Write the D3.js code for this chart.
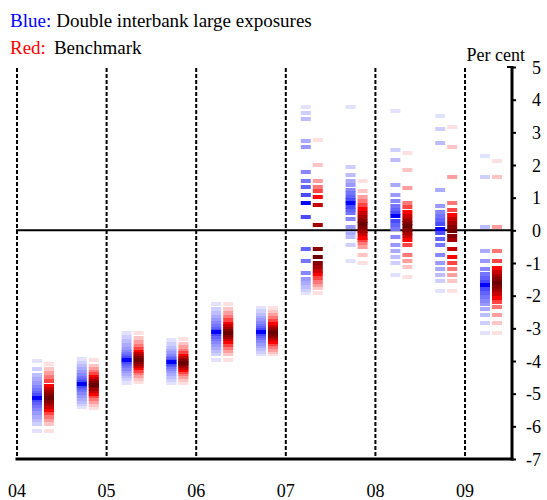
<!DOCTYPE html>
<html>
<head>
<meta charset="utf-8">
<script src="https://cdn.jsdelivr.net/npm/d3@7"></script>
<style>
  body { margin: 0; background: #fff; }
</style>
</head>
<body>
<svg id="viz" width="547" height="500"></svg>
<script>
// half-year periods, each with 19 quantiles (95th .. 5th), median is index 9
var periods = ["2004H1", "2004H2", "2005H1", "2005H2", "2006H1", "2006H2",
               "2007H1", "2007H2", "2008H1", "2008H2", "2009H1"];
var yearLabels = ["04", "05", "06", "07", "08", "09"];
var yTicks = [5, 4, 3, 2, 1, 0, -1, -2, -3, -4, -5, -6, -7];

// Blue: double interbank large exposures
var blueQ = [
  [-4.00, -4.24, -4.42, -4.55, -4.68, -4.80, -4.90, -4.98, -5.05, -5.12, -5.20, -5.28, -5.37, -5.47, -5.58, -5.70, -5.82, -5.92, -6.15],
  [-3.95, -4.05, -4.15, -4.25, -4.35, -4.44, -4.52, -4.59, -4.65, -4.70, -4.76, -4.83, -4.90, -4.98, -5.06, -5.15, -5.24, -5.33, -5.42],
  [-3.13, -3.28, -3.40, -3.52, -3.62, -3.71, -3.79, -3.86, -3.92, -3.97, -4.03, -4.09, -4.16, -4.23, -4.31, -4.39, -4.47, -4.56, -4.66],
  [-3.35, -3.48, -3.59, -3.69, -3.77, -3.84, -3.90, -3.95, -3.99, -4.03, -4.08, -4.13, -4.19, -4.25, -4.32, -4.40, -4.48, -4.57, -4.66],
  [-2.24, -2.40, -2.52, -2.64, -2.75, -2.85, -2.94, -3.01, -3.07, -3.12, -3.18, -3.25, -3.33, -3.41, -3.50, -3.59, -3.68, -3.78, -3.97],
  [-2.38, -2.48, -2.58, -2.67, -2.76, -2.85, -2.93, -3.00, -3.06, -3.11, -3.17, -3.24, -3.31, -3.39, -3.47, -3.55, -3.63, -3.71, -3.79],
  [3.77, 3.59, 3.40, 2.72, 2.54, 1.80, 1.51, 1.32, 1.07, 0.83, 0.40, -0.58, -0.94, -1.30, -1.48, -1.60, -1.72, -1.84, -1.92],
  [3.77, 1.93, 1.68, 1.51, 1.38, 1.25, 1.13, 1.02, 0.92, 0.83, 0.72, 0.62, 0.52, 0.35, 0.09, -0.07, -0.20, -0.46, -0.94],
  [3.64, 2.47, 2.16, 1.38, 1.07, 0.90, 0.75, 0.62, 0.52, 0.43, 0.30, 0.17, 0.04, -0.20, -0.46, -0.64, -0.82, -1.01, -1.37],
  [3.51, 3.09, 2.66, 1.25, 0.76, 0.55, 0.43, 0.32, 0.18, 0.04, -0.07, -0.26, -0.46, -0.76, -1.01, -1.19, -1.37, -1.56, -1.86],
  [2.29, 1.62, 0.09, -0.64, -0.94, -1.18, -1.33, -1.46, -1.58, -1.68, -1.80, -1.92, -2.03, -2.15, -2.27, -2.40, -2.59, -2.84, -3.14]
];

// Red: benchmark
var redQ = [
  [-4.08, -4.25, -4.38, -4.50, -4.62, -4.75, -4.86, -4.96, -5.05, -5.14, -5.23, -5.32, -5.41, -5.50, -5.60, -5.70, -5.80, -5.92, -6.14],
  [-3.97, -4.15, -4.25, -4.33, -4.41, -4.49, -4.56, -4.62, -4.67, -4.72, -4.78, -4.85, -4.92, -5.00, -5.08, -5.17, -5.26, -5.35, -5.45],
  [-3.15, -3.30, -3.42, -3.53, -3.63, -3.72, -3.80, -3.86, -3.91, -3.96, -4.02, -4.08, -4.15, -4.22, -4.30, -4.38, -4.46, -4.55, -4.65],
  [-3.33, -3.47, -3.58, -3.68, -3.77, -3.84, -3.90, -3.96, -4.01, -4.05, -4.10, -4.15, -4.21, -4.27, -4.34, -4.41, -4.49, -4.57, -4.66],
  [-2.24, -2.40, -2.53, -2.65, -2.76, -2.86, -2.94, -3.01, -3.07, -3.13, -3.19, -3.26, -3.34, -3.42, -3.51, -3.60, -3.69, -3.79, -3.97],
  [-2.38, -2.49, -2.59, -2.69, -2.78, -2.87, -2.95, -3.02, -3.08, -3.13, -3.19, -3.26, -3.33, -3.41, -3.49, -3.57, -3.65, -3.72, -3.80],
  [2.77, 1.99, 1.51, 1.32, 1.19, 1.01, 0.77, 0.15, -0.58, -0.82, -1.00, -1.12, -1.24, -1.35, -1.46, -1.57, -1.68, -1.78, -1.91],
  [1.50, 1.19, 1.02, 0.90, 0.78, 0.66, 0.54, 0.42, 0.30, 0.18, 0.08, -0.02, -0.12, -0.22, -0.31, -0.40, -0.52, -0.76, -1.00],
  [2.36, 1.85, 1.31, 0.84, 0.70, 0.55, 0.43, 0.32, 0.22, 0.12, 0.02, -0.08, -0.18, -0.30, -0.46, -0.76, -0.94, -1.13, -1.43],
  [3.15, 2.54, 1.62, 0.83, 0.62, 0.48, 0.35, 0.22, 0.10, -0.01, -0.16, -0.30, -0.58, -0.82, -1.01, -1.19, -1.37, -1.56, -1.86],
  [2.11, 1.62, 0.09, -0.64, -0.94, -1.14, -1.28, -1.40, -1.50, -1.61, -1.72, -1.84, -1.96, -2.08, -2.20, -2.35, -2.59, -2.84, -3.14]
];

// shades by distance from the median quantile (0 = median)
var blueShades = ["#0000ff", "#4a4aff", "#6262ff", "#7474ff", "#8686ff", "#9999ff", "#aaaaff", "#bcbcff", "#ceceff", "#e2e2ff"];
var redShades = ["#6b0000", "#850000", "#a50000", "#c80000", "#ff0000", "#ff4444", "#ff7777", "#ff9e9e", "#ffc4c4", "#ffe0e0"];

var FONT = "Liberation Serif";
var svg = d3.select("#viz");
var MEDIAN = 9, DASH_W = 10, DASH_H = 4;

var x = d3.scaleLinear().domain([2004, 2009]).range([17, 465]);
var y = d3.scaleLinear().domain([-7, 5]).range([459, 67]);
var xRight = 512;

function periodX(p) {
    var yr = +p.slice(0, 4);
    return x(yr + (p.slice(4) === "H1" ? 0.29 : 0.79));
}

// vertical dashed year lines
svg.append("g").selectAll("line")
    .data(yearLabels)
    .enter().append("line")
    .attr("x1", function (d, i) { return x(2004 + i); })
    .attr("x2", function (d, i) { return x(2004 + i); })
    .attr("y1", y(5) + 1)
    .attr("y2", y(-7))
    .attr("stroke", "#000")
    .attr("stroke-width", 2)
    .attr("stroke-dasharray", "4,2");

// zero line
svg.append("line")
    .attr("x1", x(2004) - 1).attr("x2", xRight)
    .attr("y1", y(0)).attr("y2", y(0))
    .attr("stroke", "#000").attr("stroke-width", 2);

// flatten the fans into dashes
var dashes = [];
periods.forEach(function (p, pi) {
    var cx = periodX(p);
    [[blueQ[pi], blueShades, -1], [redQ[pi], redShades, 1]].forEach(function (s) {
        s[0].forEach(function (v, qi) {
            dashes.push({
                x: s[2] < 0 ? cx - 1 - DASH_W : cx + 1,
                v: v,
                d: Math.abs(qi - MEDIAN),
                color: s[1][Math.abs(qi - MEDIAN)]
            });
        });
    });
});
// outer quantiles first so the median sits on top
dashes.sort(function (a, b) { return b.d - a.d; });

svg.append("g").selectAll("rect")
    .data(dashes)
    .enter().append("rect")
    .attr("x", function (d) { return d.x; })
    .attr("y", function (d) { return Math.round(y(d.v) - DASH_H / 2); })
    .attr("width", DASH_W)
    .attr("height", DASH_H)
    .attr("fill", function (d) { return d.color; });

// right axis
var yAxis = d3.axisRight(y).tickValues(yTicks).tickSize(3).tickFormat(d3.format("d"));
var gy = svg.append("g")
    .attr("transform", "translate(" + xRight + ",0)")
    .call(yAxis)
    .attr("font-family", FONT)
    .attr("font-size", 18);
gy.select(".domain").remove();
gy.selectAll(".tick line").attr("stroke", "#000").attr("stroke-width", 2).attr("x1", 1).attr("x2", 4);
gy.selectAll(".tick text")
    .attr("x", 29)
    .attr("dy", "0.35em")
    .attr("fill", "#000")
    .attr("text-anchor", "end")
    .text(function (d) { return d < 0 ? "-" + Math.abs(d) : d; });
svg.append("line")
    .attr("x1", xRight).attr("x2", xRight)
    .attr("y1", y(5) - 1).attr("y2", y(-7) + 1.5)
    .attr("stroke", "#000").attr("stroke-width", 3);
svg.append("line")
    .attr("x1", xRight - 5).attr("x2", xRight)
    .attr("y1", y(5)).attr("y2", y(5))
    .attr("stroke", "#000").attr("stroke-width", 2);

// bottom axis
svg.append("line")
    .attr("x1", x(2004) - 1.5).attr("x2", xRight + 1.5)
    .attr("y1", y(-7)).attr("y2", y(-7))
    .attr("stroke", "#000").attr("stroke-width", 3);

svg.append("g").selectAll("text")
    .data(yearLabels)
    .enter().append("text")
    .attr("x", function (d, i) { return x(2004 + i); })
    .attr("y", 497)
    .attr("text-anchor", "middle")
    .attr("font-family", FONT)
    .attr("font-size", 18)
    .text(function (d) { return d; });

// unit label
svg.append("text")
    .attr("x", 525).attr("y", 61)
    .attr("text-anchor", "end")
    .attr("font-family", FONT)
    .attr("font-size", 18)
    .text("Per cent");

// legend
var legend = [
    { y: 27, key: "Blue:", color: "#0000ff", gap: 5, label: "Double interbank large exposures" },
    { y: 54, key: "Red:", color: "#ff0000", gap: 8, label: "Benchmark" }
];
legend.forEach(function (l) {
    var k = svg.append("text").attr("x", 10).attr("y", l.y)
        .attr("font-family", FONT).attr("font-size", 19)
        .attr("fill", l.color).text(l.key);
    svg.append("text")
        .attr("x", 10 + k.node().getComputedTextLength() + l.gap).attr("y", l.y)
        .attr("font-family", FONT).attr("font-size", 19)
        .attr("fill", "#000").text(l.label);
});
</script>
</body>
</html>
